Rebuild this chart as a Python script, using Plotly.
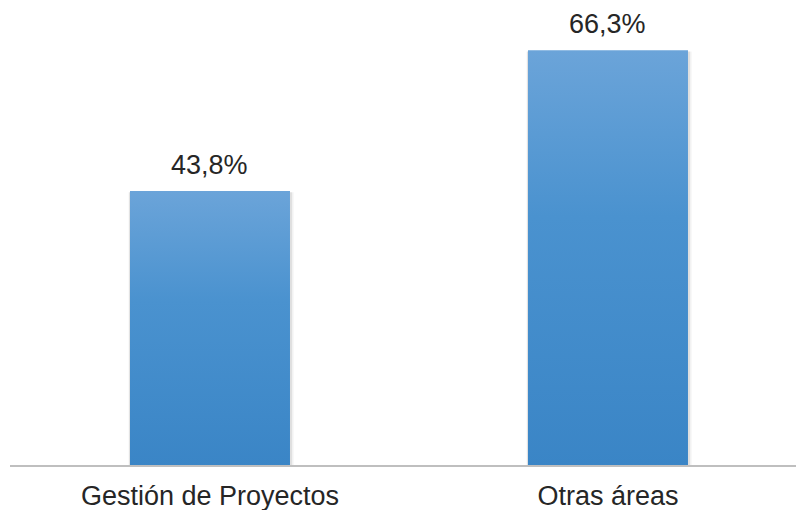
import plotly.graph_objects as go

# Data
categories = ["Gestión de Proyectos", "Otras áreas"]
values = [43.8, 66.3]
value_labels = ["43,8%", "66,3%"]

bar_width = 0.402
top_color = "#6ba4d9"
bottom_color = "#3a85c6"
font_family = "Liberation Sans, Arial, sans-serif"

fig = go.Figure()

positions = list(range(len(categories)))

for pos, val, lab in zip(positions, values, value_labels):
    x0 = pos - bar_width / 2
    x1 = pos + bar_width / 2
    # soft shadow around the bar
    for spread, alpha in [(0.009, 0.05), (0.005, 0.08)]:
        fig.add_trace(go.Scatter(
            x=[x0 - spread * 0.4, x1 + spread, x1 + spread, x0 - spread * 0.4, x0 - spread * 0.4],
            y=[-0.45, -0.45, val - 0.2, val - 0.2, -0.45],
            mode="lines", line=dict(width=0),
            fill="toself", fillcolor=f"rgba(0,0,0,{alpha})",
            hoverinfo="skip", showlegend=False,
        ))
    # bar body with vertical gradient
    fig.add_trace(go.Scatter(
        x=[x0, x1, x1, x0, x0],
        y=[-0.3, -0.3, val, val, -0.3],
        mode="lines", line=dict(width=0),
        fill="toself",
        fillgradient=dict(type="vertical",
                          colorscale=[[0, bottom_color], [0.6, "#4a92cf"], [1, top_color]]),
        hovertemplate=f"{categories[pos]}: {lab}<extra></extra>",
        showlegend=False,
    ))
    fig.add_annotation(
        x=pos, y=val, text=lab, showarrow=False,
        yanchor="bottom", yshift=9,
        font=dict(family=font_family, size=27, color="#262626"),
    )

fig.update_layout(
    width=796, height=510,
    margin=dict(l=10, r=0, t=0, b=45, autoexpand=False),
    paper_bgcolor="white", plot_bgcolor="white",
    xaxis=dict(
        range=[-0.5025, 1.4724],
        tickmode="array", tickvals=positions, ticktext=categories,
        showgrid=False, zeroline=False,
        showline=True, linecolor="#bfbfbf", linewidth=1.5,
        ticks="", ticklabelstandoff=6, automargin=False,
        tickfont=dict(family=font_family, size=27, color="#262626"),
        fixedrange=True,
    ),
    yaxis=dict(
        range=[0, 74.33],
        visible=False, showgrid=False, zeroline=False,
        fixedrange=True, automargin=False,
    ),
)

fig.write_html("out.html")
